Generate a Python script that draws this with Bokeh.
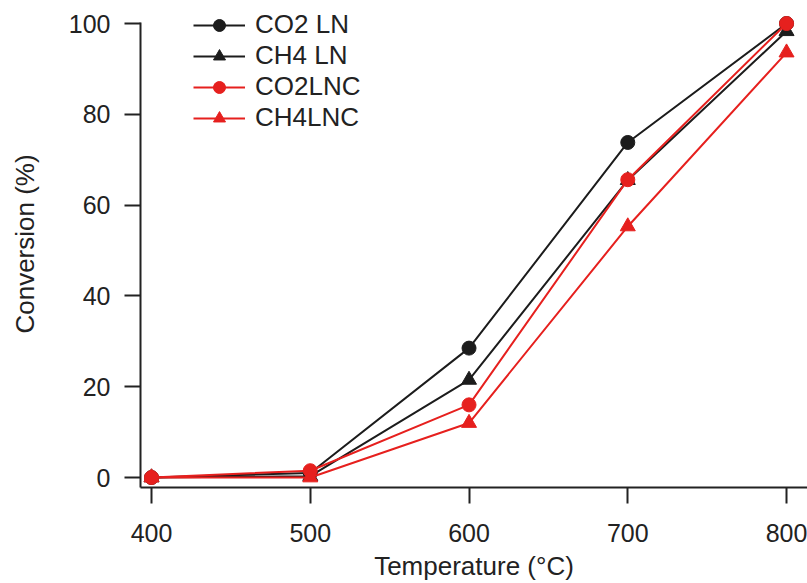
from bokeh.plotting import figure
from bokeh.models import Legend, LegendItem, FixedTicker, Range1d
from bokeh.embed import file_html
from bokeh.resources import INLINE

temperature = [400, 500, 600, 700, 800]
co2_ln = [0.0, 1.0, 28.5, 73.8, 100.0]
ch4_ln = [0.0, 0.3, 21.5, 65.5, 98.3]
co2_lnc = [0.0, 1.5, 16.0, 65.6, 100.0]
ch4_lnc = [0.0, 0.0, 12.0, 55.3, 93.6]
series_names = ["CO2 LN", "CH4 LN", "CO2LNC", "CH4LNC"]
x_ticks = [400, 500, 600, 700, 800]
y_ticks = [0, 20, 40, 60, 80, 100]

BLACK = "#1c1c1c"
RED = "#e6201e"
FONT = "Liberation Sans"

p = figure(width=807, height=583, output_backend="svg", toolbar_location=None,
           x_range=Range1d(393.07, 813.2), y_range=Range1d(-2.2, 105.07),
           min_border_left=140, min_border_right=0, min_border_top=0, min_border_bottom=96)
p.outline_line_color = None
p.grid.visible = False
p.background_fill_color = "white"

r1l = p.line(temperature, co2_ln, line_color=BLACK, line_width=2)
r1m = p.scatter(temperature, co2_ln, marker="circle", size=14, color=BLACK)
r2l = p.line(temperature, ch4_ln, line_color=BLACK, line_width=2)
r2m = p.scatter(temperature, ch4_ln, marker="triangle", size=15, color=BLACK)
r3l = p.line(temperature, co2_lnc, line_color=RED, line_width=2)
r3m = p.scatter(temperature, co2_lnc, marker="circle", size=14, color=RED)
r4l = p.line(temperature, ch4_lnc, line_color=RED, line_width=2)
r4m = p.scatter(temperature, ch4_lnc, marker="triangle", size=15, color=RED)

legend = Legend(items=[
    LegendItem(label=series_names[0], renderers=[r1l, r1m]),
    LegendItem(label=series_names[1], renderers=[r2l, r2m]),
    LegendItem(label=series_names[2], renderers=[r3l, r3m]),
    LegendItem(label=series_names[3], renderers=[r4l, r4m]),
], location=(53, 354))
legend.border_line_color = None
legend.background_fill_alpha = 0
legend.label_text_font = FONT
legend.label_text_font_size = "26px"
legend.label_text_color = "#222222"
legend.glyph_width = 52
legend.glyph_height = 30
legend.label_height = 24
legend.label_standoff = 10
legend.spacing = 0
legend.padding = 0
legend.margin = 0
p.add_layout(legend)

for ax in (p.xaxis[0], p.yaxis[0]):
    ax.axis_line_width = 2
    ax.axis_line_color = "#222222"
    ax.major_tick_line_width = 2
    ax.major_tick_line_color = "#222222"
    ax.major_tick_in = 0
    ax.major_tick_out = 16
    ax.minor_tick_line_color = None
    ax.major_label_text_font = FONT
    ax.major_label_text_font_size = "25px"
    ax.major_label_text_color = "#222222"
    ax.axis_label_text_font = FONT
    ax.axis_label_text_font_size = "26px"
    ax.axis_label_text_font_style = "normal"
    ax.axis_label_text_color = "#222222"

p.xaxis.ticker = FixedTicker(ticks=x_ticks)
p.yaxis.ticker = FixedTicker(ticks=y_ticks)
p.xaxis.axis_label = "Temperature (°C)"
p.yaxis.axis_label = "Conversion (%)"
p.xaxis.major_label_standoff = 20
p.xaxis.axis_label_standoff = 6
p.yaxis.major_label_standoff = 14
p.yaxis.axis_label_standoff = 26
p.yaxis.bounds = (-2.2, 100.3)

open("out.html", "w").write(file_html(p, INLINE))
